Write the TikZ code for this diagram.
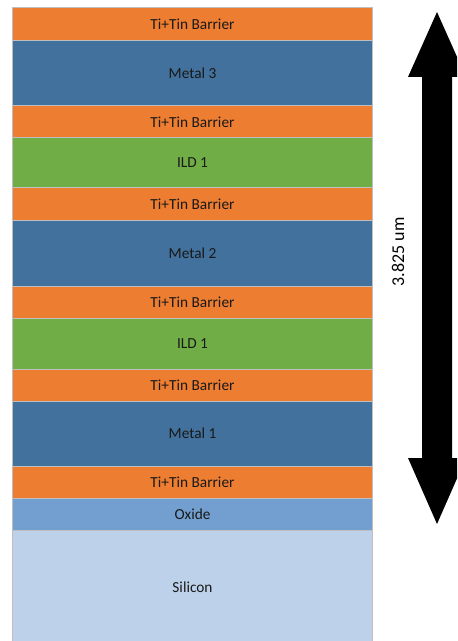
\documentclass[tikz,border=0pt]{standalone}
\usepackage{fontspec}
\setmainfont{Carlito}
\definecolor{barrier}{HTML}{ED7D31}
\definecolor{metal}{HTML}{41719C}
\definecolor{ild}{HTML}{70AD47}
\definecolor{oxide}{HTML}{729FCF}
\definecolor{silicon}{HTML}{BDD1EA}
\definecolor{edge}{HTML}{BFBFBF}
\tikzset{
  layer/.style={draw=edge, line width=0.75pt, inner sep=0pt, outer sep=0pt},
  lbl/.style={font=\fontsize{11.5}{13}\selectfont, text=black!90},
  dimlbl/.style={font=\fontsize{13.5}{15}\selectfont, text=black},
}
% one stack layer: #1 name, #2 top, #3 bottom, #4 colour, #5 text
\newcommand{\stacklayer}[5]{%
  \fill[#4] (12.5,#2) rectangle (372.5,#3);
  \draw[layer] (12.5,#2) rectangle (372.5,#3);
  \node[lbl] (#1) at (192.5,{(#2+#3)/2}) {#5};
}
\begin{document}
\begin{tikzpicture}[x=0.75pt,y=-0.75pt]
\useasboundingbox (0,0) rectangle (457,641);
\clip (0,0) rectangle (457,641);
\stacklayer{b6}{8}{41}{barrier}{Ti+Tin Barrier}
\stacklayer{m3}{41}{106}{metal}{Metal 3}
\stacklayer{b5}{106}{138}{barrier}{Ti+Tin Barrier}
\stacklayer{ild2}{138}{188}{ild}{ILD 1}
\stacklayer{b4}{188}{221}{barrier}{Ti+Tin Barrier}
\stacklayer{m2}{221}{286}{metal}{Metal 2}
\stacklayer{b3}{286}{318}{barrier}{Ti+Tin Barrier}
\stacklayer{ild1}{318}{369}{ild}{ILD 1}
\stacklayer{b2}{369}{401}{barrier}{Ti+Tin Barrier}
\stacklayer{m1}{401}{466}{metal}{Metal 1}
\stacklayer{b1}{466}{498}{barrier}{Ti+Tin Barrier}
\stacklayer{ox}{498}{530}{oxide}{Oxide}
\stacklayer{si}{530}{645}{silicon}{Silicon}
% thickness arrow
\fill[black] (437,12) -- (466,77) -- (452,77) -- (452,458) -- (466,458)
  -- (437,524) -- (408,458) -- (422,458) -- (422,77) -- (408,77) -- cycle;
\node[dimlbl, rotate=90] (thick) at (398,252) {3.825 um};
\end{tikzpicture}
\end{document}
